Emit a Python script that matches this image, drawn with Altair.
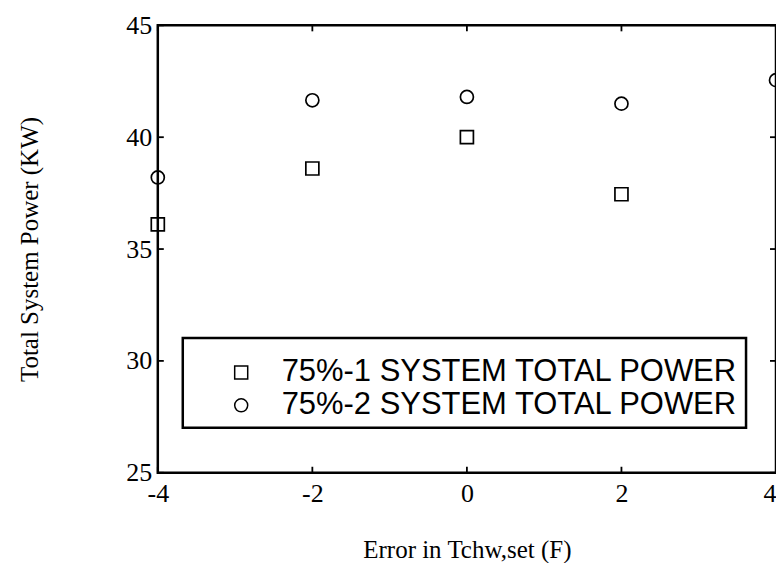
import altair as alt
import pandas as pd

# ---- data ----
series_names = ["75%-1 SYSTEM TOTAL POWER", "75%-2 SYSTEM TOTAL POWER"]
s1_x = [-4, -2, 0, 2]
s1_y = [36.1, 38.6, 40.0, 37.45]
s2_x = [-4, -2, 0, 2, 4]
s2_y = [38.2, 41.65, 41.8, 41.5, 42.55]
x_ticks = [-4, -2, 0, 2, 4]
y_ticks = [25, 30, 35, 40, 45]

W, H = 619, 448
TICK = 6

df = pd.DataFrame(
    {"x": s1_x, "y": s1_y, "series": [series_names[0]] * len(s1_x)}
)
df = pd.concat(
    [df, pd.DataFrame({"x": s2_x, "y": s2_y, "series": [series_names[1]] * len(s2_x)})],
    ignore_index=True,
)
xt = pd.DataFrame({"t": x_ticks})
yt = pd.DataFrame({"t": y_ticks})

xscale = alt.Scale(domain=[-4, 4], nice=False, zero=False)
yscale = alt.Scale(domain=[25, 45], nice=False, zero=False)

serif = "Liberation Serif"

points = alt.Chart(df).mark_point(
    filled=False, size=170, strokeWidth=1.7, color="black", opacity=1
).encode(
    x=alt.X(
        "x:Q",
        scale=xscale,
        axis=alt.Axis(
            values=x_ticks,
            labelExpr="'' + datum.value",
            labelFlush=False,
            labelAlign={
                "condition": {"test": "datum.value == 4", "value": "right"},
                "value": "center",
            },
            title="Error in Tchw,set (F)",
            domain=False,
            ticks=False,
            grid=False,
            labelPadding=8,
            labelFont=serif,
            labelFontSize=26,
            labelColor="black",
            titleFont=serif,
            titleFontSize=25,
            titleFontWeight="normal",
            titleColor="black",
            titleY=77,
            titleBaseline="middle",
        ),
    ),
    y=alt.Y(
        "y:Q",
        scale=yscale,
        axis=alt.Axis(
            values=y_ticks,
            labelExpr="'' + datum.value",
            title="Total System Power (KW)",
            domain=False,
            ticks=False,
            grid=False,
            labelPadding=6,
            labelFont=serif,
            labelFontSize=26,
            labelColor="black",
            titleFont=serif,
            titleFontSize=25,
            titleFontWeight="normal",
            titleColor="black",
            titleX=-128,
            titleBaseline="middle",
        ),
    ),
    shape=alt.Shape(
        "series:N",
        scale=alt.Scale(domain=series_names, range=["square", "circle"]),
        legend=alt.Legend(
            title=" ",
            titleFontSize=12,
            titlePadding=0,
            orient="none",
            legendX=25,
            legendY=313,
            padding=7,
            symbolOffset=36,
            labelOffset=25,
            rowPadding=1,
            symbolSize=170,
            symbolStrokeColor="black",
            symbolStrokeWidth=1.5,
            symbolFillColor="white",
            labelFont="Liberation Sans",
            labelFontSize=31,
            labelColor="black",
            labelLimit=0,
            strokeColor="black",
        ),
    ),
)

tick_style = dict(color="black", strokeWidth=1.8)

bottom_ticks = alt.Chart(xt).mark_rule(**tick_style).encode(
    x=alt.X("t:Q", scale=xscale), y=alt.value(H), y2=alt.value(H - TICK)
)
top_ticks = alt.Chart(xt).mark_rule(**tick_style).encode(
    x=alt.X("t:Q", scale=xscale), y=alt.value(0), y2=alt.value(TICK)
)
left_ticks = alt.Chart(yt).mark_rule(**tick_style).encode(
    y=alt.Y("t:Q", scale=yscale), x=alt.value(0), x2=alt.value(TICK)
)
right_ticks = alt.Chart(yt).mark_rule(**tick_style).encode(
    y=alt.Y("t:Q", scale=yscale), x=alt.value(W), x2=alt.value(W - TICK)
)

chart = (
    alt.layer(bottom_ticks, top_ticks, left_ticks, right_ticks, points)
    .properties(
        width=W,
        height=H,
        background="white",
        autosize=alt.AutoSizeParams(type="none"),
        padding={"left": 150, "top": 17, "right": 0, "bottom": 90},
    )
    .configure_view(stroke="black", strokeWidth=2.5)
    .configure_legend(strokeWidth=2.5)
)

chart.save("out.html", embed_options={"renderer": "svg", "actions": False})
